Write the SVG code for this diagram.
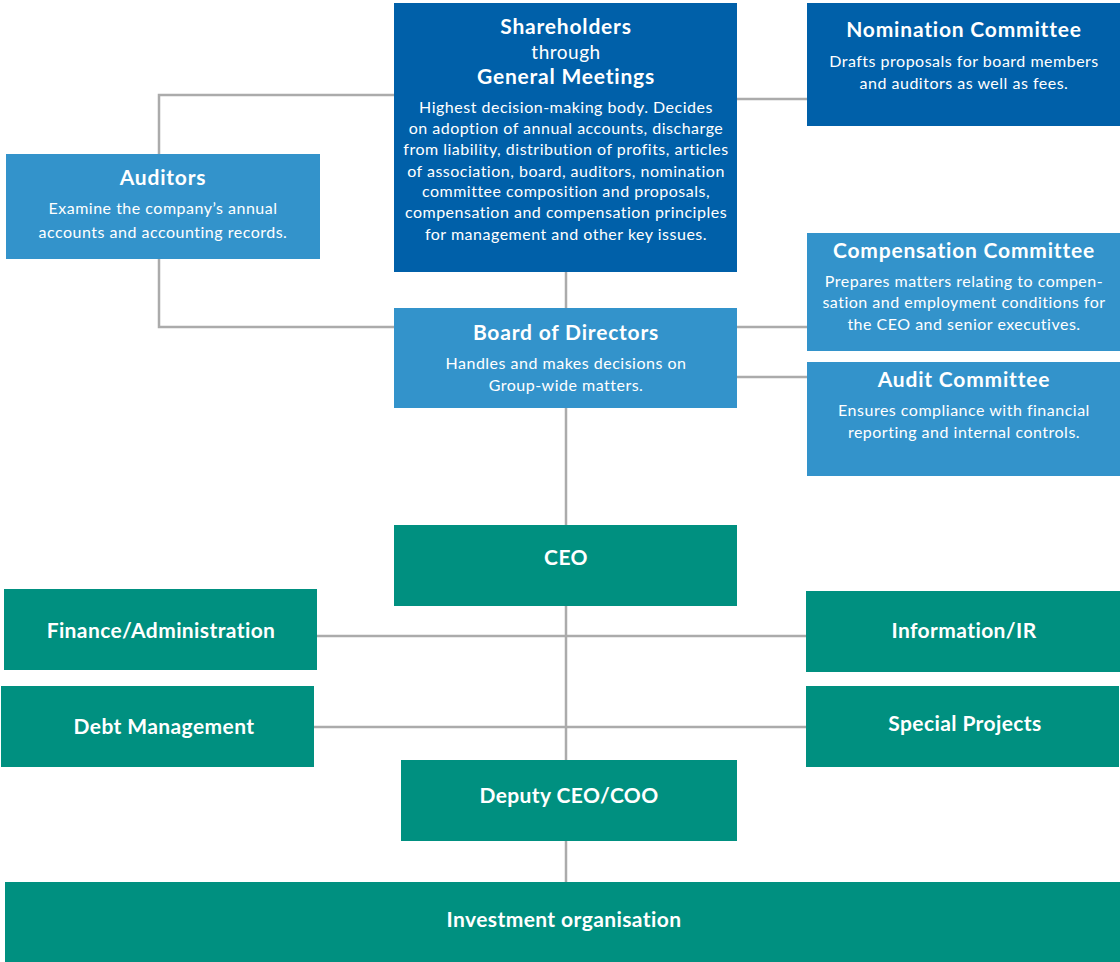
<svg xmlns="http://www.w3.org/2000/svg" width="1120" height="962" viewBox="0 0 1120 962">
<style>
.dark{fill:#0060A9}
.light{fill:#3393CB}
.green{fill:#009080}
text{font-family:"Lato","Open Sans","DejaVu Sans",sans-serif;fill:#ffffff;text-anchor:middle}
.t{font-weight:bold;font-size:21px;letter-spacing:0.8px}
.b{font-size:16px;letter-spacing:0.5px}
.g{font-weight:bold;font-size:21px;letter-spacing:0.4px}
.conn{fill:none;stroke:#ABABAB;stroke-width:2.5}
</style>
<rect width="1120" height="962" fill="#ffffff"/>
<g id="connectors">
<polyline class="conn" points="394,95 159,95 159,327 394,327"/>
<line class="conn" x1="737" y1="99" x2="807" y2="99"/>
<line class="conn" x1="566" y1="272" x2="566" y2="882"/>
<line class="conn" x1="737" y1="327" x2="807" y2="327"/>
<line class="conn" x1="737" y1="377" x2="807" y2="377"/>
<line class="conn" x1="317" y1="636" x2="806" y2="636"/>
<line class="conn" x1="314" y1="727" x2="806" y2="727"/>
</g>
<g id="shareholders">
<rect class="dark" x="394" y="3" width="343" height="269"/>
<text class="t" x="566" y="34">Shareholders</text>
<text class="b" x="566" y="59" style="font-size:19px">through</text>
<text class="t" x="566" y="84">General Meetings</text>
<text class="b" x="566" y="113">Highest decision-making body. Decides</text>
<text class="b" x="566" y="134">on adoption of annual accounts, discharge</text>
<text class="b" x="566" y="155">from liability, distribution of profits, articles</text>
<text class="b" x="566" y="177">of association, board, auditors, nomination</text>
<text class="b" x="566" y="197">committee composition and proposals,</text>
<text class="b" x="566" y="218">compensation and compensation principles</text>
<text class="b" x="566" y="240">for management and other key issues.</text>
</g>
<g id="nomination">
<rect class="dark" x="807" y="3" width="313" height="123"/>
<text class="t" x="964" y="37">Nomination Committee</text>
<text class="b" x="964" y="67">Drafts proposals for board members</text>
<text class="b" x="964" y="89">and auditors as well as fees.</text>
</g>
<g id="auditors">
<rect class="light" x="6" y="154" width="314" height="105"/>
<text class="t" x="163" y="185">Auditors</text>
<text class="b" x="163" y="214">Examine the company’s annual</text>
<text class="b" x="163" y="238">accounts and accounting records.</text>
</g>
<g id="compensation">
<rect class="light" x="807" y="233" width="313" height="118"/>
<text class="t" x="964" y="258">Compensation Committee</text>
<text class="b" x="964" y="287">Prepares matters relating to compen-</text>
<text class="b" x="964" y="308">sation and employment conditions for</text>
<text class="b" x="964" y="330">the CEO and senior executives.</text>
</g>
<g id="board">
<rect class="light" x="394" y="308" width="343" height="100"/>
<text class="t" x="566" y="340">Board of Directors</text>
<text class="b" x="566" y="369">Handles and makes decisions on</text>
<text class="b" x="566" y="391">Group-wide matters.</text>
</g>
<g id="audit">
<rect class="light" x="807" y="362" width="313" height="114"/>
<text class="t" x="964" y="387">Audit Committee</text>
<text class="b" x="964" y="416">Ensures compliance with financial</text>
<text class="b" x="964" y="438">reporting and internal controls.</text>
</g>
<g id="ceo">
<rect class="green" x="394" y="525" width="343" height="81"/>
<text class="g" x="566" y="565">CEO</text>
</g>
<g id="finance">
<rect class="green" x="4" y="589" width="313" height="81"/>
<text class="g" x="161" y="638">Finance/Administration</text>
</g>
<g id="information">
<rect class="green" x="806" y="591" width="314" height="81"/>
<text class="g" x="964" y="638">Information/IR</text>
</g>
<g id="debt">
<rect class="green" x="1" y="686" width="313" height="81"/>
<text class="g" x="164" y="734">Debt Management</text>
</g>
<g id="special">
<rect class="green" x="806" y="686" width="313" height="81"/>
<text class="g" x="965" y="731">Special Projects</text>
</g>
<g id="deputy">
<rect class="green" x="401" y="760" width="336" height="81"/>
<text class="g" x="569" y="803">Deputy CEO/COO</text>
</g>
<g id="investment">
<rect class="green" x="5" y="882" width="1115" height="80"/>
<text class="g" x="564" y="927">Investment organisation</text>
</g>
</svg>
